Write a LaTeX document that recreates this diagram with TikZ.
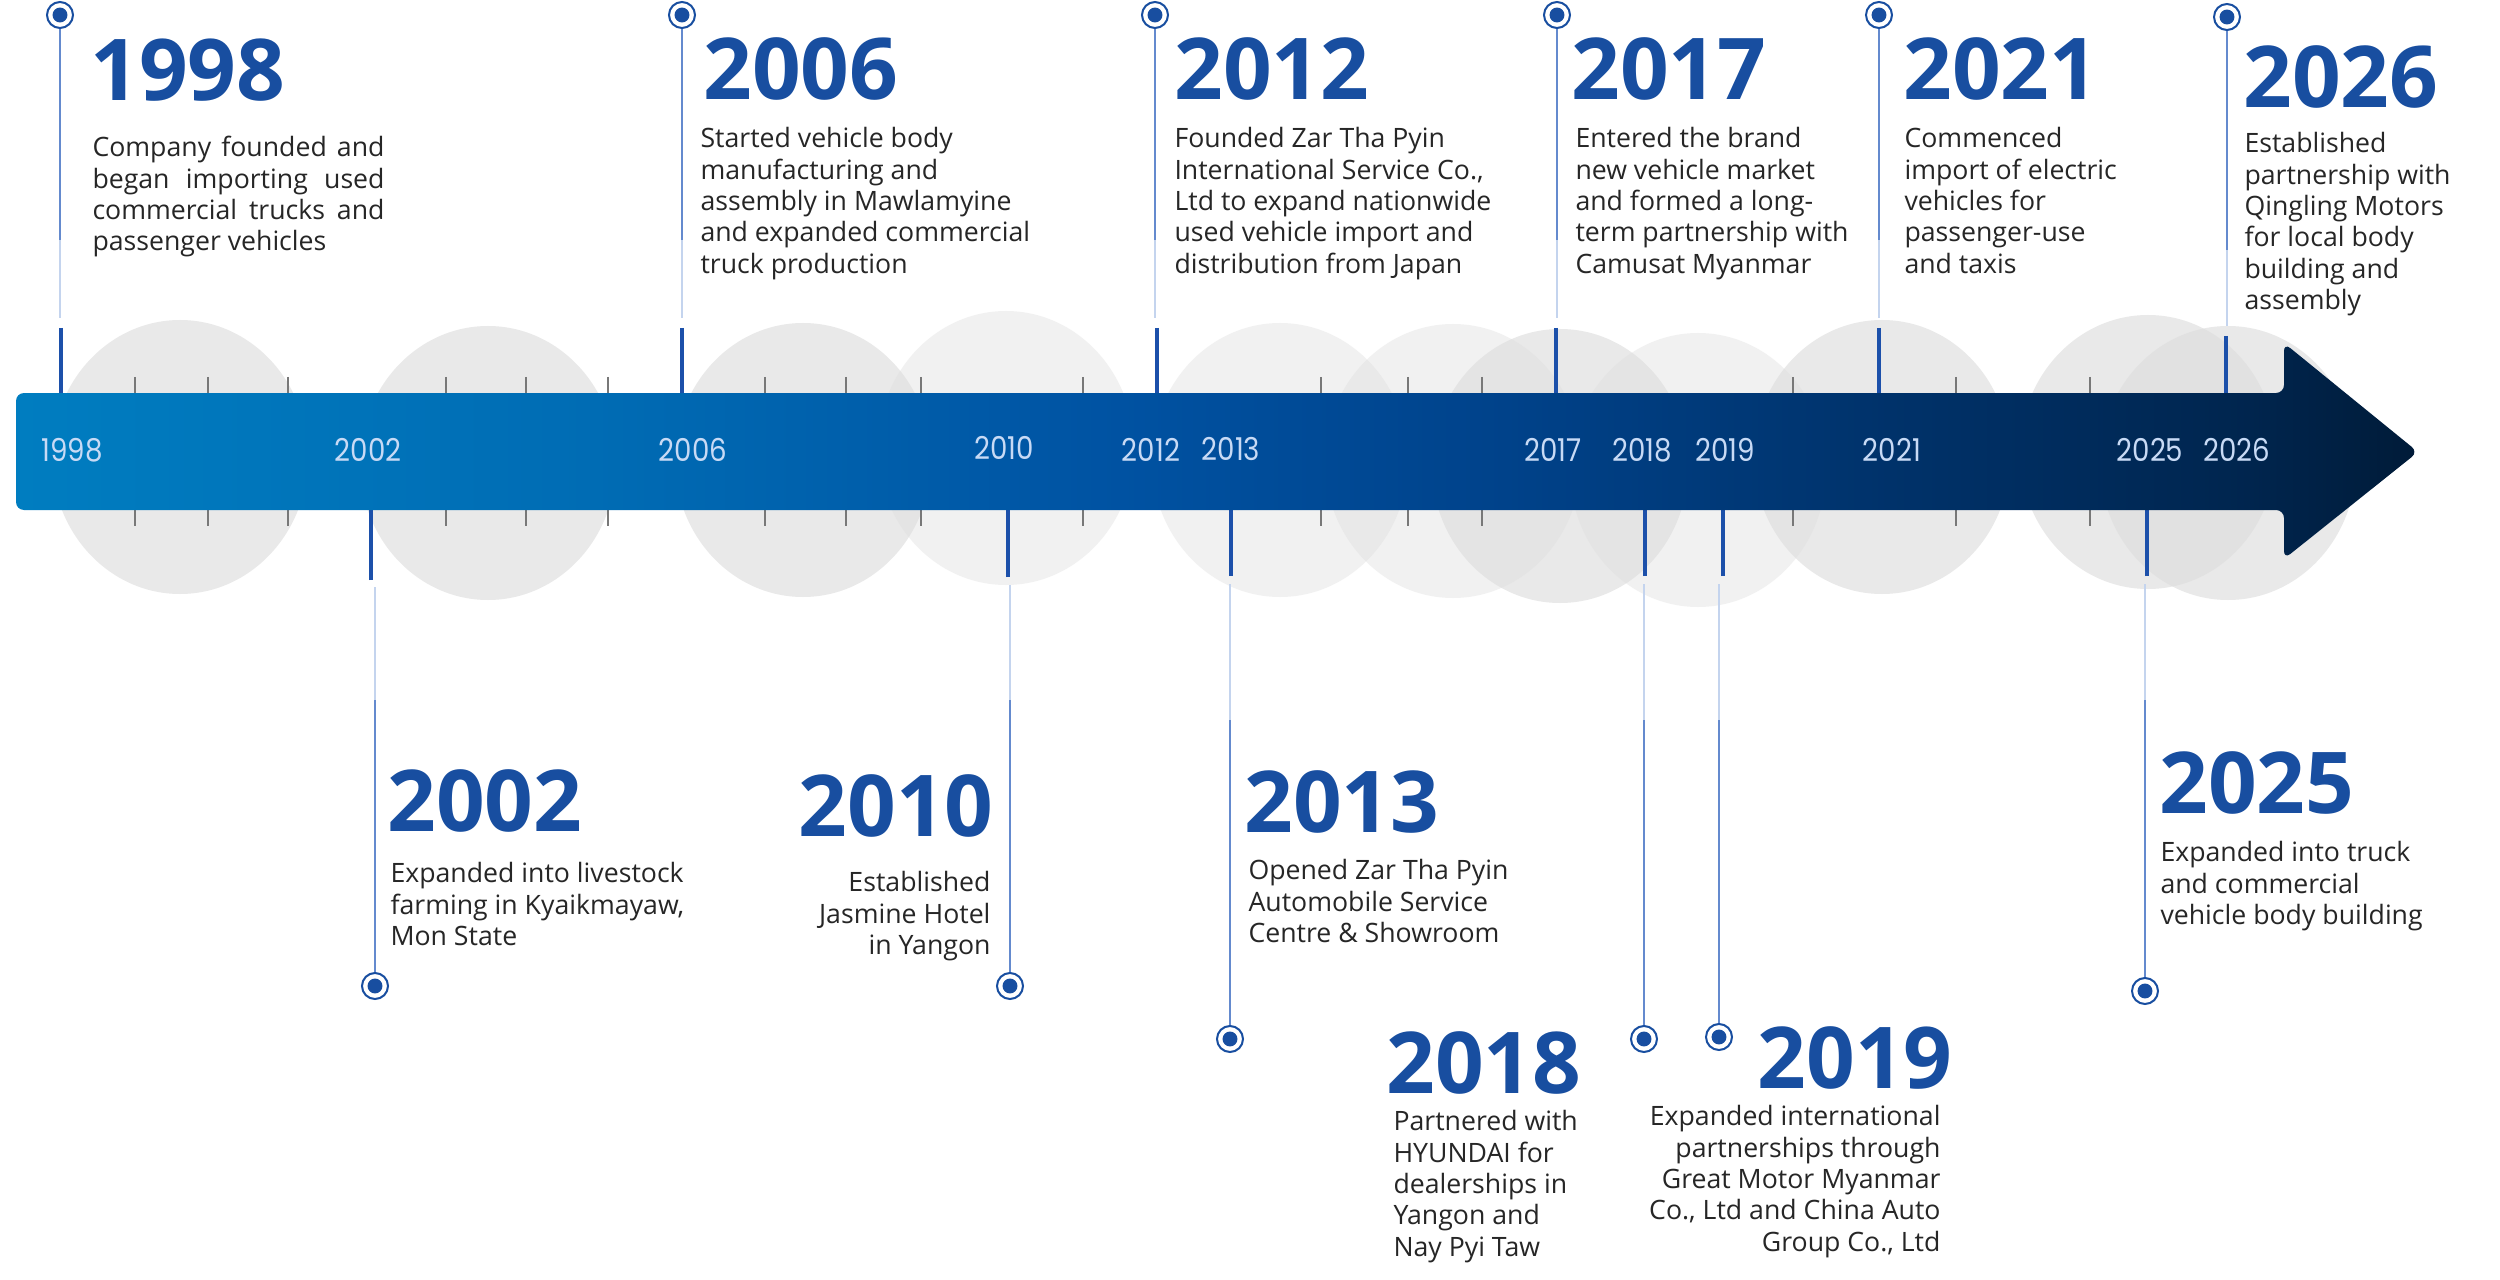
\documentclass[tikz,border=0pt]{standalone}
\usepackage{fontspec}
\setmainfont{Open Sans}
\newfontfamily\barfont{Poppins}[FakeStretch=0.88]

\definecolor{tlblue}{RGB}{24,78,160}
\definecolor{stemblue}{RGB}{28,80,170}
\definecolor{thinblue}{RGB}{100,138,206}
\definecolor{thinfade}{RGB}{196,212,238}
\definecolor{tickgray}{RGB}{120,120,120}
\definecolor{bodygray}{RGB}{38,38,38}
\definecolor{barlabelc}{RGB}{200,218,245}
\definecolor{circgray}{RGB}{221,221,221}
\definecolor{barA}{RGB}{0,125,192}
\definecolor{barB}{RGB}{0,108,180}
\definecolor{barC}{RGB}{0,82,162}
\definecolor{barD}{RGB}{0,66,138}
\definecolor{barE}{RGB}{0,50,106}
\definecolor{barF}{RGB}{0,37,78}
\definecolor{barG}{RGB}{0,27,56}

\pgfdeclarehorizontalshading{barshade}{100bp}{color(0bp)=(barA); color(25bp)=(barA); color(37bp)=(barB); color(48bp)=(barC); color(56bp)=(barD); color(64bp)=(barE); color(71.5bp)=(barF); color(75bp)=(barG); color(100bp)=(barG)}

\tikzset{every picture/.style={line width=0.75pt}}
\tikzset{
  bgcircle/.style={fill=circgray, fill opacity=0.64},
  bgcirclelight/.style={fill=circgray, fill opacity=0.4},
  tickline/.style={draw=tickgray, line width=2.2pt},
  stemthick/.style={draw=stemblue, line width=2.6pt},
  stemthin/.style={draw=thinblue, line width=1.1pt},
  stemfaded/.style={draw=thinfade, line width=1.1pt},
  dotring/.style={circle, draw=tlblue, line width=1.5pt, fill=white, minimum size=19.5pt, inner sep=0pt,
    path picture={\fill[tlblue] (path picture bounding box.center) circle (5.6pt);}},
  yearhead/.style={font=\fontsize{64pt}{64pt}\selectfont\bfseries, text=tlblue, inner sep=0pt},
  eventtext/.style={font=\fontsize{20pt}{23.5pt}\selectfont, text=bodygray, inner sep=0pt, execute at begin node=\strut},
  barlabel/.style={font=\barfont\fontsize{23.6pt}{23.6pt}\selectfont, text=barlabelc, inner sep=0pt, anchor=base},
}

\begin{document}
\begin{tikzpicture}[x=0.75pt,y=0.75pt,yscale=-1,xscale=1]
    \useasboundingbox (0,0) rectangle (2500,1280);
    \fill[white] (0,0) rectangle (2500,1280);

    %Shape: Ellipses behind the bar
    \fill[bgcircle] (180,457) ellipse [x radius=128, y radius=137];
    \fill[bgcircle] (488,463) ellipse [x radius=128, y radius=137];
    \fill[bgcircle] (803,460) ellipse [x radius=128, y radius=137];
    \fill[bgcirclelight] (1006,448) ellipse [x radius=128, y radius=137];
    \fill[bgcirclelight] (1280,460) ellipse [x radius=128, y radius=137];
    \fill[bgcirclelight] (1453,461) ellipse [x radius=128, y radius=137];
    \fill[bgcircle] (1560,466) ellipse [x radius=128, y radius=137];
    \fill[bgcirclelight] (1698,470) ellipse [x radius=128, y radius=137];
    \fill[bgcircle] (1882,457) ellipse [x radius=128, y radius=137];
    \fill[bgcircle] (2148,452) ellipse [x radius=128, y radius=137];
    \fill[bgcircle] (2228,463) ellipse [x radius=128, y radius=137];

    %Straight Lines: gray ticks above and below the bar
    \draw[tickline] (135,377) -- (135,393) (135,510) -- (135,526);
    \draw[tickline] (208,377) -- (208,393) (208,510) -- (208,526);
    \draw[tickline] (288,377) -- (288,393) (288,510) -- (288,526);
    \draw[tickline] (446,377) -- (446,393) (446,510) -- (446,526);
    \draw[tickline] (526,377) -- (526,393) (526,510) -- (526,526);
    \draw[tickline] (608,377) -- (608,393) (608,510) -- (608,526);
    \draw[tickline] (765,377) -- (765,393) (765,510) -- (765,526);
    \draw[tickline] (846,377) -- (846,393) (846,510) -- (846,526);
    \draw[tickline] (921,377) -- (921,393) (921,510) -- (921,526);
    \draw[tickline] (1083,377) -- (1083,393) (1083,510) -- (1083,526);
    \draw[tickline] (1321,377) -- (1321,393) (1321,510) -- (1321,526);
    \draw[tickline] (1408,377) -- (1408,393) (1408,510) -- (1408,526);
    \draw[tickline] (1482,377) -- (1482,393) (1482,510) -- (1482,526);
    \draw[tickline] (1793,377) -- (1793,393) (1793,510) -- (1793,526);
    \draw[tickline] (1956,377) -- (1956,393) (1956,510) -- (1956,526);
    \draw[tickline] (2090,377) -- (2090,393) (2090,510) -- (2090,526);

    % Dots of the events
    \node[dotring] (d1998) at (60,15) {};
    \node[dotring] (d2006) at (682,15) {};
    \node[dotring] (d2012) at (1155,15) {};
    \node[dotring] (d2017) at (1557,15) {};
    \node[dotring] (d2021) at (1879,15) {};
    \node[dotring] (d2026) at (2227,17) {};
    \node[dotring] (d2002) at (375,986) {};
    \node[dotring] (d2010) at (1010,986) {};
    \node[dotring] (d2013) at (1230,1039) {};
    \node[dotring] (d2018) at (1644,1039) {};
    \node[dotring] (d2019) at (1719,1037) {};
    \node[dotring] (d2025) at (2145,991) {};

    % Stem coordinates (m = where the thin line starts to fade)
    \coordinate (m1998) at (60,240);   \coordinate (t1998) at (60,318);   \coordinate (s1998) at (61,328);   \coordinate (b1998) at (61,393);
    \coordinate (m2006) at (682,240);  \coordinate (t2006) at (682,318);  \coordinate (s2006) at (682,328);  \coordinate (b2006) at (682,393);
    \coordinate (m2012) at (1155,240); \coordinate (t2012) at (1155,318); \coordinate (s2012) at (1157,328); \coordinate (b2012) at (1157,393);
    \coordinate (m2017) at (1557,240); \coordinate (t2017) at (1557,318); \coordinate (s2017) at (1556,328); \coordinate (b2017) at (1556,393);
    \coordinate (m2021) at (1879,240); \coordinate (t2021) at (1879,318); \coordinate (s2021) at (1879,328); \coordinate (b2021) at (1879,393);
    \coordinate (m2026) at (2227,250); \coordinate (t2026) at (2227,326); \coordinate (s2026) at (2226,336); \coordinate (b2026) at (2226,393);
    \coordinate (m2002) at (375,700);  \coordinate (t2002) at (375,587);  \coordinate (s2002) at (371,580);  \coordinate (b2002) at (371,510);
    \coordinate (m2010) at (1010,700); \coordinate (t2010) at (1010,585); \coordinate (s2010) at (1008,577); \coordinate (b2010) at (1008,510);
    \coordinate (m2013) at (1230,720); \coordinate (t2013) at (1230,584); \coordinate (s2013) at (1231,576); \coordinate (b2013) at (1231,510);
    \coordinate (m2018) at (1644,720); \coordinate (t2018) at (1644,584); \coordinate (s2018) at (1645,576); \coordinate (b2018) at (1645,510);
    \coordinate (m2019) at (1719,720); \coordinate (t2019) at (1719,584); \coordinate (s2019) at (1723,576); \coordinate (b2019) at (1723,510);
    \coordinate (m2025) at (2145,700); \coordinate (t2025) at (2145,584); \coordinate (s2025) at (2147,576); \coordinate (b2025) at (2147,510);

    %Straight Lines: thin stems from the dots, fading toward the bar
    \draw[stemthin] (d1998) -- (m1998);  \draw[stemfaded] (m1998) -- (t1998);
    \draw[stemthin] (d2006) -- (m2006);  \draw[stemfaded] (m2006) -- (t2006);
    \draw[stemthin] (d2012) -- (m2012);  \draw[stemfaded] (m2012) -- (t2012);
    \draw[stemthin] (d2017) -- (m2017);  \draw[stemfaded] (m2017) -- (t2017);
    \draw[stemthin] (d2021) -- (m2021);  \draw[stemfaded] (m2021) -- (t2021);
    \draw[stemthin] (d2026) -- (m2026);  \draw[stemfaded] (m2026) -- (t2026);
    \draw[stemthin] (d2002) -- (m2002);  \draw[stemfaded] (m2002) -- (t2002);
    \draw[stemthin] (d2010) -- (m2010);  \draw[stemfaded] (m2010) -- (t2010);
    \draw[stemthin] (d2013) -- (m2013);  \draw[stemfaded] (m2013) -- (t2013);
    \draw[stemthin] (d2018) -- (m2018);  \draw[stemfaded] (m2018) -- (t2018);
    \draw[stemthin] (d2019) -- (m2019);  \draw[stemfaded] (m2019) -- (t2019);
    \draw[stemthin] (d2025) -- (m2025);  \draw[stemfaded] (m2025) -- (t2025);

    %Straight Lines: thick stems at the bar
    \draw[stemthick] (s1998) -- (b1998);
    \draw[stemthick] (s2006) -- (b2006);
    \draw[stemthick] (s2012) -- (b2012);
    \draw[stemthick] (s2017) -- (b2017);
    \draw[stemthick] (s2021) -- (b2021);
    \draw[stemthick] (s2026) -- (b2026);
    \draw[stemthick] (s2002) -- (b2002);
    \draw[stemthick] (s2010) -- (b2010);
    \draw[stemthick] (s2013) -- (b2013);
    \draw[stemthick] (s2018) -- (b2018);
    \draw[stemthick] (s2019) -- (b2019);
    \draw[stemthick] (s2025) -- (b2025);

    %Shape: Arrow bar
    \shade[shading=barshade, rounded corners=6pt] (16,393) -- (2284,393) -- (2284,343) -- (2418,452) -- (2284,559) -- (2284,510) -- (16,510) -- cycle;

    % Text Node: years on the bar
    \node[barlabel] (y1998) at (72,461) {1998};
    \node[barlabel] (y2002) at (368,461) {2002};
    \node[barlabel] (y2006) at (693,461) {2006};
    \node[barlabel] (y2010) at (1004,459) {2010};
    \node[barlabel] (y2012) at (1151,461) {2012};
    \node[barlabel] (y2013) at (1231,460) {2013};
    \node[barlabel] (y2017) at (1553,461) {2017};
    \node[barlabel] (y2018) at (1642,461) {2018};
    \node[barlabel] (y2019) at (1725,461) {2019};
    \node[barlabel] (y2021) at (1892,461) {2021};
    \node[barlabel] (y2025) at (2150,461) {2025};
    \node[barlabel] (y2026) at (2237,461) {2026};

    % Text Node: headings
    \node[yearhead, anchor=base west] (h1998) at (90,101) {1998};
    \node[yearhead, anchor=base west] (h2006) at (703,100) {2006};
    \node[yearhead, anchor=base west] (h2012) at (1174,100) {2012};
    \node[yearhead, anchor=base west] (h2017) at (1571,100) {2017};
    \node[yearhead, anchor=base west] (h2021) at (1903,100) {2021};
    \node[yearhead, anchor=base west] (h2026) at (2243,108) {2026};
    \node[yearhead, anchor=base west] (h2002) at (387,831) {2002};
    \node[yearhead, anchor=base east] (h2010) at (994,836) {2010};
    \node[yearhead, anchor=base west] (h2013) at (1244,832) {2013};
    \node[yearhead, anchor=base west] (h2018) at (1386,1093) {2018};
    \node[yearhead, anchor=base east] (h2019) at (1953,1088) {2019};
    \node[yearhead, anchor=base west] (h2025) at (2159,813) {2025};

    % Text Node: event texts
    \node[eventtext, anchor=north west, align=left] (e1998) at (92,136) {\makebox[219pt][s]{Company founded and}\\\makebox[219pt][s]{began importing used}\\\makebox[219pt][s]{commercial trucks and}\\passenger vehicles};
    \node[eventtext, anchor=north west, align=left] (e2006) at (700,127) {Started vehicle body\\manufacturing and\\assembly in Mawlamyine\\and expanded commercial\\truck production};
    \node[eventtext, anchor=north west, align=left] (e2012) at (1174,127) {Founded Zar Tha Pyin\\International Service Co.,\\Ltd to expand nationwide\\used vehicle import and\\distribution from Japan};
    \node[eventtext, anchor=north west, align=left] (e2017) at (1575,127) {Entered the brand\\new vehicle market\\and formed a long-\\term partnership with\\Camusat Myanmar};
    \node[eventtext, anchor=north west, align=left] (e2021) at (1904,127) {Commenced\\import of electric\\vehicles for\\passenger-use\\and taxis};
    \node[eventtext, anchor=north west, align=left] (e2026) at (2244,132) {Established\\partnership with\\Qingling Motors\\for local body\\building and\\assembly};
    \node[eventtext, anchor=north west, align=left] (e2002) at (390,862) {Expanded into livestock\\farming in Kyaikmayaw,\\Mon State};
    \node[eventtext, anchor=north east, align=right] (e2010) at (991,871) {Established\\Jasmine Hotel\\in Yangon};
    \node[eventtext, anchor=north west, align=left] (e2013) at (1248,859) {Opened Zar Tha Pyin\\Automobile Service\\Centre \& Showroom};
    \node[eventtext, anchor=north west, align=left] (e2018) at (1393,1110) {Partnered with\\HYUNDAI for\\dealerships in\\Yangon and\\Nay Pyi Taw};
    \node[eventtext, anchor=north east, align=right] (e2019) at (1941,1105) {Expanded international\\partnerships through\\Great Motor Myanmar\\Co., Ltd and China Auto\\Group Co., Ltd};
    \node[eventtext, anchor=north west, align=left] (e2025) at (2160,841) {Expanded into truck\\and commercial\\vehicle body building};

\end{tikzpicture}
\end{document}
